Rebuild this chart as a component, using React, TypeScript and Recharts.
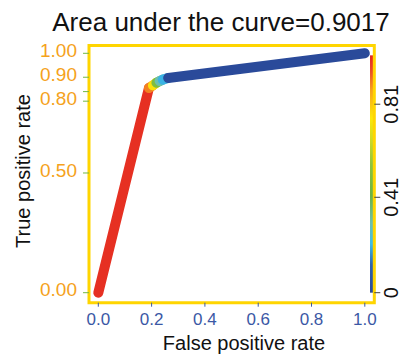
import React from 'react';
import { LineChart, Line, XAxis, YAxis, ReferenceArea } from 'recharts';

// ROC curve points
const fpr = [0, 0.19, 0.205, 0.218, 0.23, 0.242, 0.262, 1.0];
const tpr = [0, 0.855, 0.866, 0.877, 0.884, 0.89, 0.897, 1.0];
// cutoff for each segment (point i -> i+1)
const segmentCutoff = [1.0, 0.9, 0.76, 0.5, 0.3, 0.2, 0.0];

const xTicks = [0, 0.2, 0.4, 0.6, 0.8, 1.0];
const xTickLabels = ['0.0', '0.2', '0.4', '0.6', '0.8', '1.0'];
const yTicks = [0, 0.5, 0.8, 0.84, 0.9, 1.0];
const yTickLabels = ['0.00', '0.50', '0.80', '', '0.90', '1.00'];
const cutoffTicks = [0, 0.41, 0.81];
const cutoffTickLabels = ['0', '0.41', '0.81'];
const cutoffRange = [0, 1.02];

const title = 'Area under the curve=0.9017';
const xLabel = 'False positive rate';
const yLabel = 'True positive rate';

// styling
const FONT = '"Liberation Sans", Arial, Helvetica, sans-serif';
const X_DOMAIN: [number, number] = [-0.0349, 1.0356];
const Y_DOMAIN: [number, number] = [-0.0418, 1.0326];
const CB_DOMAIN: [number, number] = [-0.043, 1.0623];
const COLORBAR_X = [1.0195, 1.0327];

const cmapStops: [number, string][] = [
  [0.0, '#2A4A9A'],
  [0.12, '#2E62AF'],
  [0.21, '#3DBDEB'],
  [0.3, '#6DBFB0'],
  [0.42, '#6AB344'],
  [0.55, '#8CC43F'],
  [0.65, '#C9D92A'],
  [0.75, '#FCE80A'],
  [0.87, '#F6A01E'],
  [0.95, '#EA4E26'],
  [1.02, '#E52421'],
];

function hexToRgb(h: string) {
  const n = parseInt(h.slice(1), 16);
  return [(n >> 16) & 255, (n >> 8) & 255, n & 255];
}
function cmap(v: number) {
  if (v <= cmapStops[0][0]) return cmapStops[0][1];
  for (let i = 1; i < cmapStops.length; i++) {
    const [v1, c1] = cmapStops[i];
    const [v0, c0] = cmapStops[i - 1];
    if (v <= v1) {
      const t = (v - v0) / (v1 - v0);
      const a = hexToRgb(c0);
      const b = hexToRgb(c1);
      const c = a.map((x, k) => Math.round(x + (b[k] - x) * t));
      return `rgb(${c[0]},${c[1]},${c[2]})`;
    }
  }
  return cmapStops[cmapStops.length - 1][1];
}

const segments = segmentCutoff.map((c, i) => ({
  data: [
    { x: fpr[i], y: tpr[i] },
    { x: fpr[i + 1], y: tpr[i + 1] },
  ],
  color: cmap(c),
}));

const CbTick = (props: any) => {
  const { x, y, payload } = props;
  const idx = cutoffTicks.indexOf(payload.value);
  const bx = x + 16;
  return (
    <text
      x={bx}
      y={y}
      transform={`rotate(-90, ${bx}, ${y})`}
      textAnchor="middle"
      fontSize={20}
      fill="#111"
      fontFamily={FONT}
    >
      {cutoffTickLabels[idx]}
    </text>
  );
};

export default function App() {
  return (
    <div style={{ position: 'absolute', left: 0, top: 0, width: 401, height: 356, background: '#fff', fontFamily: FONT }}>
      <LineChart
        width={401}
        height={356}
        margin={{ top: 45.5, right: 0.7, bottom: 23.3, left: 29 }}
        style={{ fontFamily: FONT }}
      >
        <defs>
          <linearGradient id="cbGrad" x1="0" y1="1" x2="0" y2="0">
            {cmapStops.map(([v, c]) => (
              <stop key={v} offset={`${(v / cutoffRange[1]) * 100}%`} stopColor={c} />
            ))}
          </linearGradient>
        </defs>
        <XAxis
          xAxisId="x"
          dataKey="x"
          type="number"
          domain={X_DOMAIN}
          allowDataOverflow
          ticks={xTicks}
          interval={0}
          tickFormatter={(v: number) => xTickLabels[xTicks.indexOf(v)]}
          axisLine={false}
          tickSize={4}
          tickMargin={6}
          tickLine={{ stroke: '#3B58A5' }}
          tick={{ fill: '#3B58A5', fontSize: 17 }}
          height={30}
        />
        <YAxis
          yAxisId="y"
          type="number"
          domain={Y_DOMAIN}
          allowDataOverflow
          ticks={yTicks}
          interval={0}
          tickFormatter={(v: number) => yTickLabels[yTicks.indexOf(v)]}
          axisLine={false}
          tickSize={6}
          tickMargin={6}
          tickLine={{ stroke: '#74B843' }}
          tick={{ fill: '#F5A21B', fontSize: 19, dy: -3 }}
          width={60}
        />
        <YAxis
          yAxisId="cb"
          orientation="right"
          type="number"
          domain={CB_DOMAIN}
          allowDataOverflow
          ticks={cutoffTicks}
          interval={0}
          axisLine={false}
          tickSize={6}
          tickMargin={2}
          tickLine={{ stroke: '#444' }}
          tick={<CbTick />}
          width={26}
        />
        <ReferenceArea
          xAxisId="x"
          yAxisId="cb"
          x1={COLORBAR_X[0]}
          x2={COLORBAR_X[1]}
          y1={cutoffRange[0]}
          y2={cutoffRange[1]}
          fill="url(#cbGrad)"
          fillOpacity={1}
          stroke="none"
          ifOverflow="visible"
        />
        {segments.map((s, i) => (
          <Line
            key={i}
            xAxisId="x"
            yAxisId="y"
            data={s.data}
            dataKey="y"
            type="linear"
            stroke={s.color}
            strokeWidth={10}
            strokeLinecap="round"
            dot={false}
            activeDot={false}
            isAnimationActive={false}
          />
        ))}
        <ReferenceArea
          xAxisId="x"
          yAxisId="y"
          x1={X_DOMAIN[0]}
          x2={X_DOMAIN[1]}
          y1={Y_DOMAIN[0]}
          y2={Y_DOMAIN[1]}
          fill="none"
          stroke="#FFD500"
          strokeWidth={3}
          ifOverflow="visible"
        />
      </LineChart>
      <div
        style={{
          position: 'absolute', left: 0, width: 442, top: 9, textAlign: 'center',
          fontSize: 26, lineHeight: '26px', color: '#111', whiteSpace: 'nowrap',
        }}
      >
        {title}
      </div>
      <div
        style={{
          position: 'absolute', left: 44, width: 400, top: 333, textAlign: 'center',
          fontSize: 20, lineHeight: '20px', color: '#111', whiteSpace: 'nowrap',
        }}
      >
        {xLabel}
      </div>
      <div
        style={{
          position: 'absolute', left: 23, top: 170.5, width: 0, height: 0,
        }}
      >
        <div
          style={{
            position: 'absolute', left: 0, top: 0, transform: 'translate(-50%, -50%) rotate(-90deg)',
            fontSize: 20, lineHeight: '20px', color: '#111', whiteSpace: 'nowrap',
          }}
        >
          {yLabel}
        </div>
      </div>
    </div>
  );
}
